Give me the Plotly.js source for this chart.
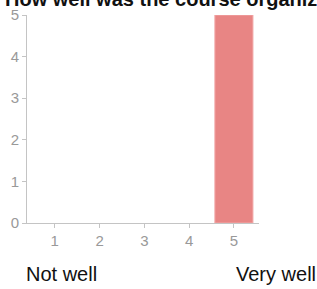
<!DOCTYPE html>
<html><head><meta charset="utf-8">
<script src="https://cdn.plot.ly/plotly-3.0.1.min.js"></script>
<style>html,body{margin:0;padding:0;background:#fff;}#c{width:317px;height:289px;}</style>
</head><body><div id="c"></div>
<script>
const titleText = "How well was the course organized?";
const categories = [1, 2, 3, 4, 5];
const counts = [0, 0, 0, 0, 5];
const lowLabel = "Not well";
const highLabel = "Very well";

const trace = {
  type: 'bar', x: categories, y: counts, width: 0.85,
  marker: {color: '#e88584', line: {color: '#f2a9a9', width: counts.map(v => v > 0 ? 1 : 0)}},
  hoverinfo: 'none'
};
const layout = {
  width: 317, height: 289,
  margin: {l: 27, r: 58, t: 15, b: 66, pad: 0},
  paper_bgcolor: '#fff', plot_bgcolor: '#fff',
  showlegend: false,
  font: {family: 'Liberation Sans, Arial, sans-serif', size: 15, color: '#999'},
  title: {text: '<b>' + titleText + '</b>', x: 5/317, xanchor: 'left', xref: 'container', y: 1 - 6/289, yref: 'container', yanchor: 'bottom',
          font: {family: 'Liberation Sans, Arial, sans-serif', size: 20, color: '#111'}},
  xaxis: {type: 'linear', range: [0.38, 5.56], tickvals: categories, ticktext: categories.map(String),
          showgrid: false, zeroline: false, showline: true, linecolor: '#c4c4c4', linewidth: 1,
          ticks: 'outside', ticklen: 4, tickcolor: '#c4c4c4', fixedrange: true},
  yaxis: {range: [0, 5], tickvals: [0,1,2,3,4,5], showgrid: false, zeroline: false,
          showline: true, linecolor: '#c4c4c4', linewidth: 1, ticks: 'outside', ticklen: 4, tickcolor: '#c4c4c4', fixedrange: true},
  annotations: [
    {text: lowLabel, xref: 'paper', yref: 'paper', x: -0.013, y: -0.245, xanchor: 'left', yanchor: 'middle', showarrow: false,
     font: {family: 'Liberation Sans, Arial, sans-serif', size: 20, color: '#111'}},
    {text: highLabel, xref: 'paper', yref: 'paper', x: 0.892, y: -0.245, xanchor: 'left', yanchor: 'middle', showarrow: false,
     font: {family: 'Liberation Sans, Arial, sans-serif', size: 20, color: '#111'}}
  ]
};
Plotly.newPlot('c', [trace], layout, {displayModeBar: false, staticPlot: true});
</script></body></html>
